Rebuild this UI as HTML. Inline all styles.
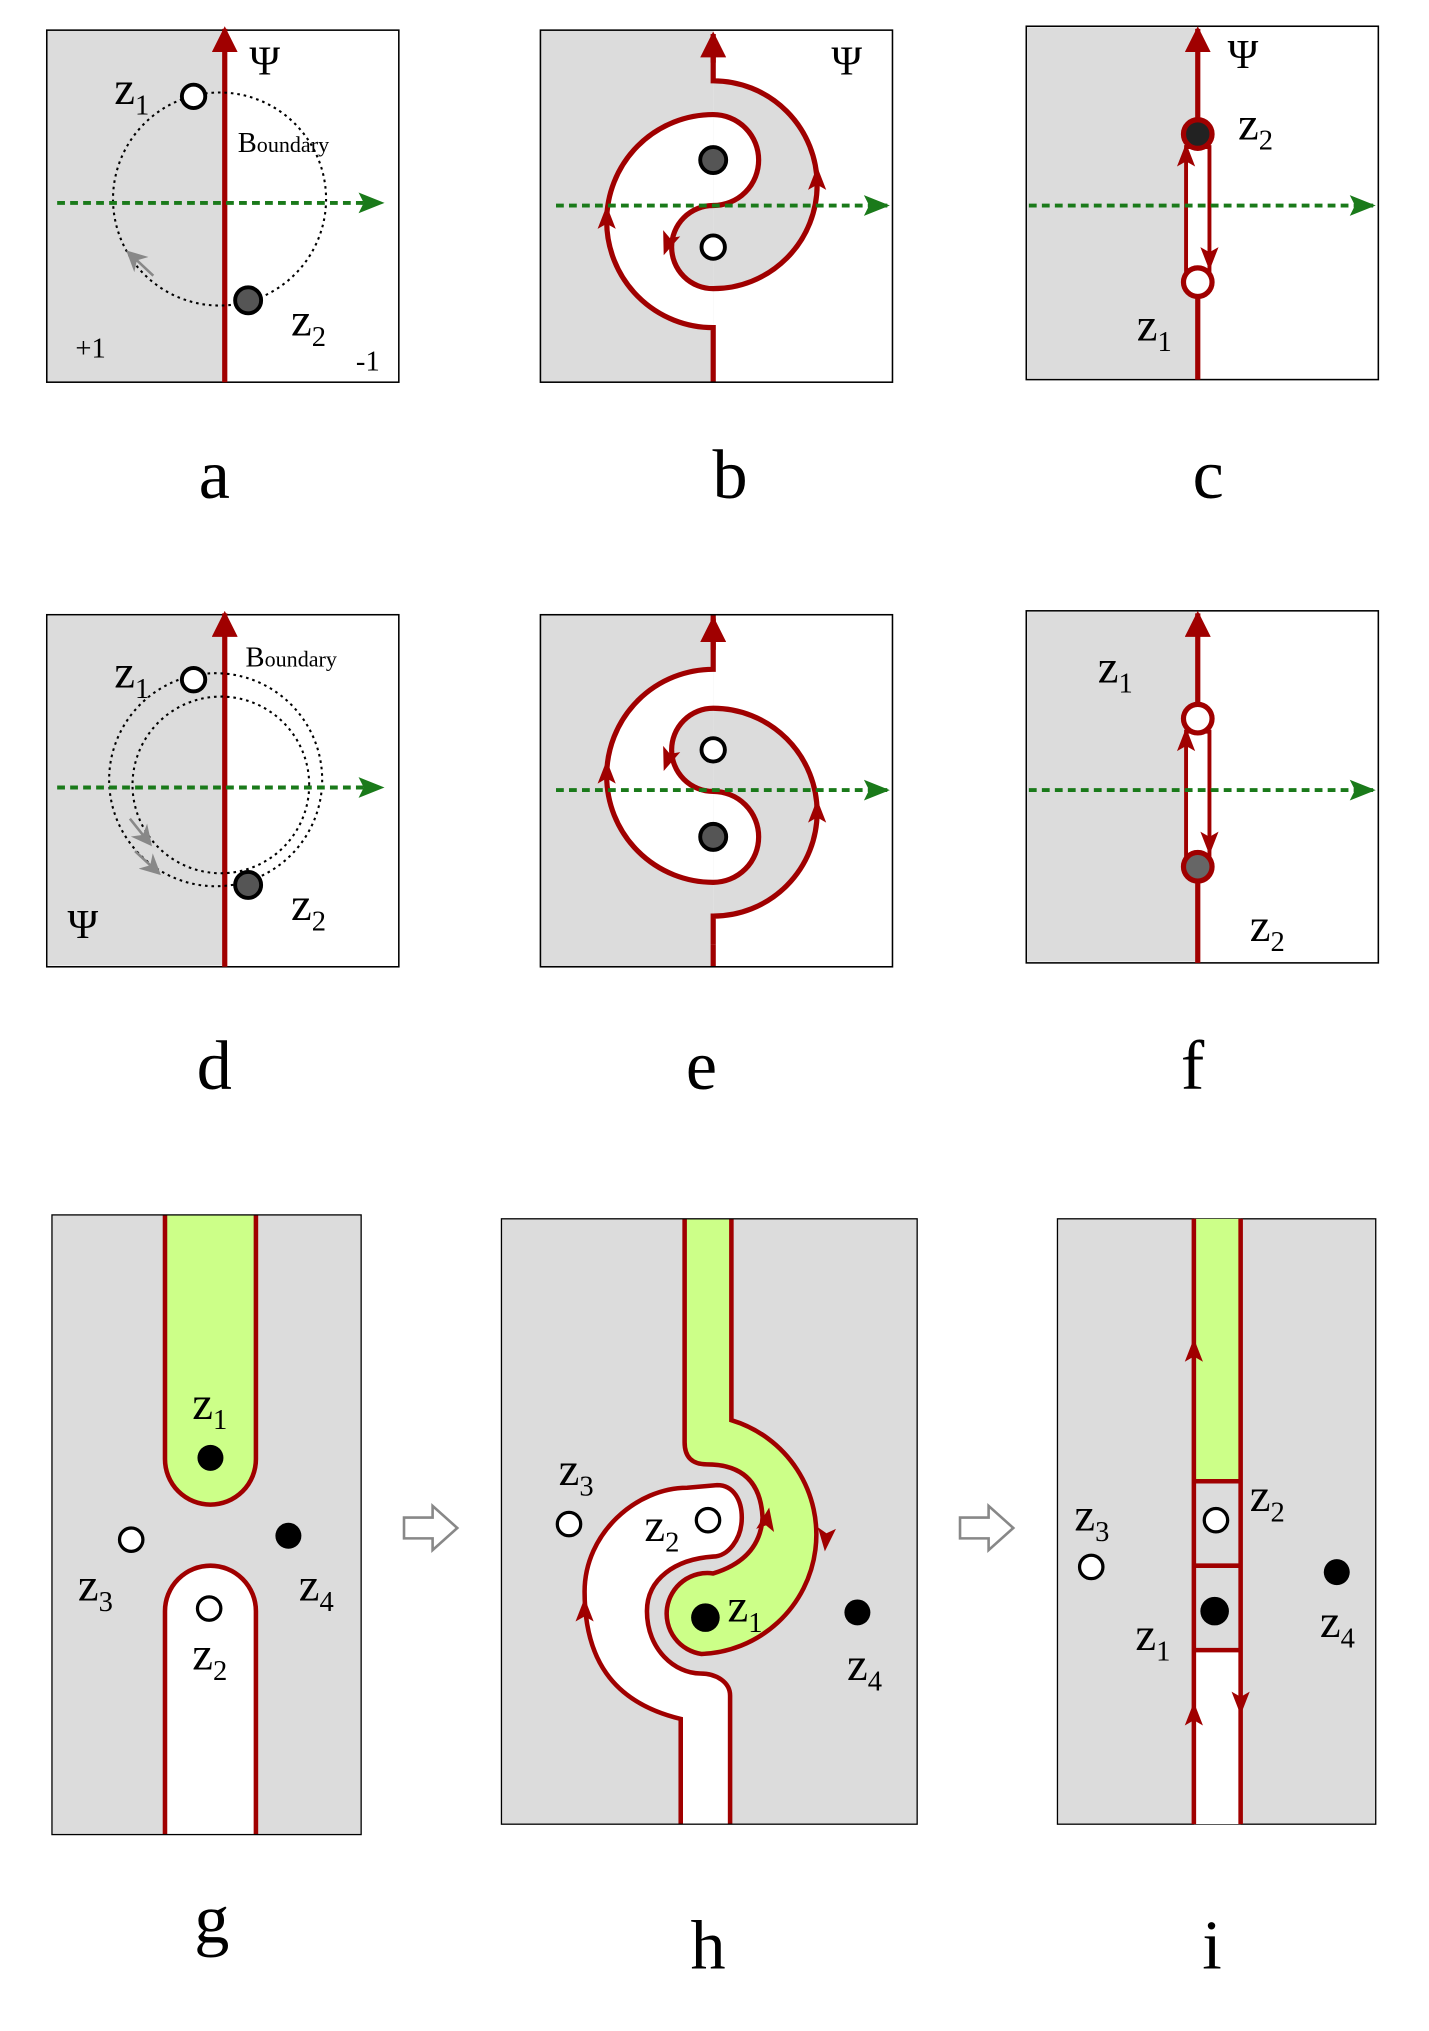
<!DOCTYPE html>
<html><head><meta charset="utf-8"><style>html,body{margin:0;padding:0;background:#fff}svg{display:block}</style></head><body>
<svg width="1429" height="2031" viewBox="0 0 1100 1563" xmlns="http://www.w3.org/2000/svg" font-family="Liberation Serif, serif">
<defs>
<marker id="rab" viewBox="0 0 10 10" markerWidth="20" markerHeight="20" refX="9" refY="5" orient="auto" markerUnits="userSpaceOnUse"><path d="M0,0 L10,5 L0,10 Z" fill="#a00000"/></marker>
<marker id="ga" viewBox="0 0 10 10" markerWidth="26" markerHeight="20" refX="9" refY="5" orient="auto" markerUnits="userSpaceOnUse"><path d="M0,1 L10,5 L0,9 L2,5 Z" fill="#1a7a1a"/></marker>
<marker id="gr" viewBox="0 0 10 10" markerWidth="16" markerHeight="16" refX="5" refY="5" orient="auto" markerUnits="userSpaceOnUse"><path d="M0,0 L10,5 L0,10 L3,5 Z" fill="#888"/></marker>
<g id="ah"><path d="M-7,6 L0,-12 L7,6 L0,2 Z" fill="#a00000"/></g>
<clipPath id="cg"><rect x="40" y="935" width="238" height="477"/></clipPath>
<clipPath id="chh"><rect x="386" y="938" width="320" height="466"/></clipPath>
<g id="yy">
<rect x="416" y="23" width="133" height="271" fill="#dcdcdc"/>
<path d="M549,88 A82,82 0 0 0 467,170 A82,82 0 0 0 549,252 Z" fill="#ffffff"/>
<path d="M549,62 A80,80 0 0 1 629,142 A80,80 0 0 1 549,222 Z" fill="#dcdcdc"/>
<path d="M549,88 A35,35 0 0 1 584,123 A35,35 0 0 1 549,158 Z" fill="#ffffff"/>
<path d="M549,158 A32,32 0 0 0 517,190 A32,32 0 0 0 549,222 Z" fill="#dcdcdc"/>
<path d="M549,294 V252 A82,82 0 0 1 549,88 A35,35 0 0 1 549,158 A32,32 0 0 0 549,222 A80,80 0 0 0 549,62 V40" fill="none" stroke="#a00000" stroke-width="4"/>
</g>
</defs>
<!-- a -->
<rect x="36" y="23" width="271" height="271" fill="#fff"/>
<rect x="36" y="23" width="137" height="271" fill="#dcdcdc"/>
<rect x="36" y="23" width="271" height="271" fill="none" stroke="#000" stroke-width="1.2"/>
<line x1="173" y1="294" x2="173" y2="22" stroke="#a00000" stroke-width="4" marker-end="url(#rab)"/>
<circle cx="169" cy="153" r="82" fill="none" stroke="#000" stroke-width="1.6" stroke-dasharray="2,3"/>
<path d="M118,212 L103,198" stroke="#888" stroke-width="2" marker-end="url(#gr)"/>
<line x1="44" y1="156" x2="294" y2="156" stroke="#1a7a1a" stroke-width="3" stroke-dasharray="6,4" marker-end="url(#ga)"/>
<circle cx="149" cy="74" r="9" fill="#fff" stroke="#000" stroke-width="3"/>
<circle cx="191" cy="231" r="10" fill="#555" stroke="#000" stroke-width="3"/>
<g font-size="36"><text x="88" y="80">z<tspan font-size="22" dy="8">1</tspan></text><text x="224" y="258">z<tspan font-size="22" dy="8">2</tspan></text></g>
<text x="192" y="57" font-size="32">Ψ</text>
<text x="183" y="117" font-size="22">B<tspan font-size="17">oundary</tspan></text>
<text x="58" y="275" font-size="22">+1</text><text x="274" y="285" font-size="22">-1</text>

<!-- b -->
<rect x="416" y="23" width="271" height="271" fill="#fff"/>
<use href="#yy"/>
<use href="#ah" transform="translate(467,170)"/>
<use href="#ah" transform="translate(629,140)"/>
<use href="#ah" transform="translate(515,185) rotate(200)"/>
<path d="M549,48 V26" stroke="#a00000" stroke-width="4" marker-end="url(#rab)"/>
<rect x="416" y="23" width="271" height="271" fill="none" stroke="#000" stroke-width="1.2"/>
<line x1="428" y1="158" x2="683" y2="158" stroke="#1a7a1a" stroke-width="3" stroke-dasharray="6,4" marker-end="url(#ga)"/>
<circle cx="549" cy="123" r="10" fill="#555" stroke="#000" stroke-width="3"/>
<circle cx="549" cy="190" r="9" fill="#fff" stroke="#000" stroke-width="3"/>
<text x="640" y="57" font-size="32">Ψ</text>

<!-- c -->
<rect x="790" y="20" width="271" height="272" fill="#fff" stroke="#000" stroke-width="1.2"/>
<rect x="791" y="21" width="131" height="270" fill="#dcdcdc"/>
<line x1="922" y1="292" x2="922" y2="22" stroke="#a00000" stroke-width="4" marker-end="url(#rab)"/>
<rect x="913" y="113" width="18" height="95" fill="#fff" stroke="#a00000" stroke-width="3"/>
<use href="#ah" transform="translate(913,122)"/><use href="#ah" transform="translate(931,196) rotate(180)"/>
<line x1="792" y1="158" x2="1057" y2="158" stroke="#1a7a1a" stroke-width="3" stroke-dasharray="6,4" marker-end="url(#ga)"/>
<circle cx="922" cy="103" r="11" fill="#222" stroke="#a00000" stroke-width="4"/>
<circle cx="922" cy="217" r="11" fill="#fff" stroke="#a00000" stroke-width="4"/>
<g font-size="36"><text x="953" y="107">z<tspan font-size="22" dy="8">2</tspan></text><text x="875" y="262">z<tspan font-size="22" dy="8">1</tspan></text></g>
<text x="945" y="52" font-size="32">Ψ</text>

<!-- d -->
<rect x="36" y="473" width="271" height="271" fill="#fff" stroke="#000" stroke-width="1.2"/>
<rect x="37" y="474" width="136" height="269" fill="#dcdcdc"/>
<line x1="173" y1="744" x2="173" y2="472" stroke="#a00000" stroke-width="4" marker-end="url(#rab)"/>
<circle cx="166" cy="600" r="82" fill="none" stroke="#000" stroke-width="1.6" stroke-dasharray="2,3"/>
<circle cx="170" cy="604" r="68" fill="none" stroke="#000" stroke-width="1.6" stroke-dasharray="2,3"/>
<path d="M100,630 L112,645" stroke="#888" stroke-width="2" marker-end="url(#gr)"/>
<path d="M104,655 L118,668" stroke="#888" stroke-width="2" marker-end="url(#gr)"/>
<line x1="44" y1="606" x2="294" y2="606" stroke="#1a7a1a" stroke-width="3" stroke-dasharray="6,4" marker-end="url(#ga)"/>
<circle cx="149" cy="523" r="9" fill="#fff" stroke="#000" stroke-width="3"/>
<circle cx="191" cy="681" r="10" fill="#555" stroke="#000" stroke-width="3"/>
<g font-size="36"><text x="88" y="529">z<tspan font-size="22" dy="8">1</tspan></text><text x="224" y="708">z<tspan font-size="22" dy="8">2</tspan></text></g>
<text x="52" y="722" font-size="32">Ψ</text>
<text x="189" y="513" font-size="22">B<tspan font-size="17">oundary</tspan></text>

<!-- e -->
<rect x="416" y="473" width="271" height="271" fill="#fff"/>
<g transform="translate(0,767) scale(1,-1)">
<use href="#yy"/>
<path d="M549,40 V23" stroke="#a00000" stroke-width="4"/>
<use href="#ah" transform="translate(467,170) scale(1,-1)"/>
<use href="#ah" transform="translate(629,140) scale(1,-1)"/>
<use href="#ah" transform="translate(515,185) scale(1,-1) rotate(200)"/>
</g>
<path d="M549,500 V476" stroke="#a00000" stroke-width="4" marker-end="url(#rab)"/>
<rect x="416" y="473" width="271" height="271" fill="none" stroke="#000" stroke-width="1.2"/>
<line x1="428" y1="608" x2="683" y2="608" stroke="#1a7a1a" stroke-width="3" stroke-dasharray="6,4" marker-end="url(#ga)"/>
<circle cx="549" cy="577" r="9" fill="#fff" stroke="#000" stroke-width="3"/>
<circle cx="549" cy="644" r="10" fill="#555" stroke="#000" stroke-width="3"/>

<!-- f -->
<rect x="790" y="470" width="271" height="271" fill="#fff" stroke="#000" stroke-width="1.2"/>
<rect x="791" y="471" width="131" height="269" fill="#dcdcdc"/>
<line x1="922" y1="741" x2="922" y2="472" stroke="#a00000" stroke-width="4" marker-end="url(#rab)"/>
<rect x="913" y="563" width="18" height="95" fill="#fff" stroke="#a00000" stroke-width="3"/>
<use href="#ah" transform="translate(913,572)"/><use href="#ah" transform="translate(931,646) rotate(180)"/>
<line x1="792" y1="608" x2="1057" y2="608" stroke="#1a7a1a" stroke-width="3" stroke-dasharray="6,4" marker-end="url(#ga)"/>
<circle cx="922" cy="553" r="11" fill="#fff" stroke="#a00000" stroke-width="4"/>
<circle cx="922" cy="667" r="11" fill="#666" stroke="#a00000" stroke-width="4"/>
<g font-size="36"><text x="845" y="525">z<tspan font-size="22" dy="8">1</tspan></text><text x="962" y="724">z<tspan font-size="22" dy="8">2</tspan></text></g>

<!-- g -->
<rect x="40" y="935" width="238" height="477" fill="#dcdcdc"/>
<g clip-path="url(#cg)">
<path d="M127,925 V1123 A35,35 0 0 0 197,1123 V925 Z" fill="#ccff88" stroke="#a00000" stroke-width="3.5"/>
<path d="M127,1422 V1240 A35,35 0 0 1 197,1240 V1422 Z" fill="#fff" stroke="#a00000" stroke-width="3.5"/>
</g>
<rect x="40" y="935" width="238" height="477" fill="none" stroke="#000" stroke-width="1"/>
<circle cx="162" cy="1122" r="10" fill="#000"/>
<circle cx="101" cy="1185" r="9" fill="#fff" stroke="#000" stroke-width="2.5"/>
<circle cx="222" cy="1182" r="10" fill="#000"/>
<circle cx="161" cy="1238" r="9" fill="#fff" stroke="#000" stroke-width="2.5"/>
<g font-size="36"><text x="148" y="1092">z<tspan font-size="22" dy="8">1</tspan></text><text x="60" y="1232">z<tspan font-size="22" dy="8">3</tspan></text><text x="230" y="1232">z<tspan font-size="22" dy="8">4</tspan></text><text x="148" y="1285">z<tspan font-size="22" dy="8">2</tspan></text></g>

<!-- arrows between -->
<path d="M311,1168 H333 V1159 L352,1176 L333,1193 V1184 H311 Z" fill="#fff" stroke="#888" stroke-width="2"/>
<path d="M739,1168 H761 V1159 L780,1176 L761,1193 V1184 H739 Z" fill="#fff" stroke="#888" stroke-width="2"/>

<!-- h -->
<rect x="386" y="938" width="320" height="466" fill="#dcdcdc"/>
<g clip-path="url(#chh)" stroke="#a00000" stroke-width="3.5">
<path d="M527,925 H563 V1093 A92,92 0 0 1 540,1273 A31,31 0 0 1 549,1211 Q585,1200 587,1168 Q585,1127 544,1127 Q527,1127 527,1110 Z" fill="#ccff88"/>
<path d="M524,1420 V1323 C470,1310 450,1275 450,1225 C450,1180 490,1145 529,1145 L552,1143 C565,1143 571,1155 571,1168 C571,1185 560,1198 549,1198 C520,1200 498,1215 498,1240 C498,1270 520,1288 539,1288 C552,1288 562,1295 562,1305 V1420 Z" fill="#fff"/>
</g>
<rect x="386" y="938" width="320" height="466" fill="none" stroke="#000" stroke-width="1"/>
<use href="#ah" transform="translate(450,1242)"/>
<use href="#ah" transform="translate(590,1172) rotate(10)"/>
<use href="#ah" transform="translate(636,1182) rotate(185)"/>
<circle cx="545" cy="1170" r="9" fill="#fff" stroke="#000" stroke-width="2.5"/>
<circle cx="543" cy="1245" r="11" fill="#000"/>
<circle cx="438" cy="1173" r="9" fill="#fff" stroke="#000" stroke-width="2.5"/>
<circle cx="660" cy="1241" r="10" fill="#000"/>
<g font-size="36"><text x="430" y="1143">z<tspan font-size="22" dy="8">3</tspan></text><text x="496" y="1186">z<tspan font-size="22" dy="8">2</tspan></text><text x="560" y="1248">z<tspan font-size="22" dy="8">1</tspan></text><text x="652" y="1293">z<tspan font-size="22" dy="8">4</tspan></text></g>

<!-- i -->
<rect x="814" y="938" width="245" height="466" fill="#dcdcdc" stroke="#000" stroke-width="1"/>
<rect x="919" y="938" width="36" height="202" fill="#ccff88"/>
<rect x="919" y="1270" width="36" height="134" fill="#fff"/>
<g stroke="#a00000" stroke-width="3.5" fill="none">
<line x1="919" y1="938" x2="919" y2="1404"/><line x1="955" y1="938" x2="955" y2="1404"/>
<line x1="919" y1="1140" x2="955" y2="1140"/><line x1="919" y1="1205" x2="955" y2="1205"/><line x1="919" y1="1270" x2="955" y2="1270"/>
</g>
<use href="#ah" transform="translate(919,1042)"/>
<use href="#ah" transform="translate(919,1322)"/>
<use href="#ah" transform="translate(955,1308) rotate(180)"/>
<circle cx="936" cy="1170" r="9" fill="#fff" stroke="#000" stroke-width="2.5"/>
<circle cx="935" cy="1240" r="11" fill="#000"/>
<circle cx="840" cy="1206" r="9" fill="#fff" stroke="#000" stroke-width="2.5"/>
<circle cx="1029" cy="1210" r="10" fill="#000"/>
<g font-size="36"><text x="827" y="1178">z<tspan font-size="22" dy="8">3</tspan></text><text x="962" y="1163">z<tspan font-size="22" dy="8">2</tspan></text><text x="874" y="1270">z<tspan font-size="22" dy="8">1</tspan></text><text x="1016" y="1260">z<tspan font-size="22" dy="8">4</tspan></text></g>

<!-- letters -->
<g font-size="54" text-anchor="middle">
<text x="165" y="383">a</text><text x="562" y="383">b</text><text x="930" y="383">c</text>
<text x="165" y="838">d</text><text x="540" y="838">e</text><text x="918" y="838">f</text>
<text x="163" y="1495">g</text><text x="545" y="1515">h</text><text x="933" y="1515">i</text>
</g>
</svg>
</body></html>
